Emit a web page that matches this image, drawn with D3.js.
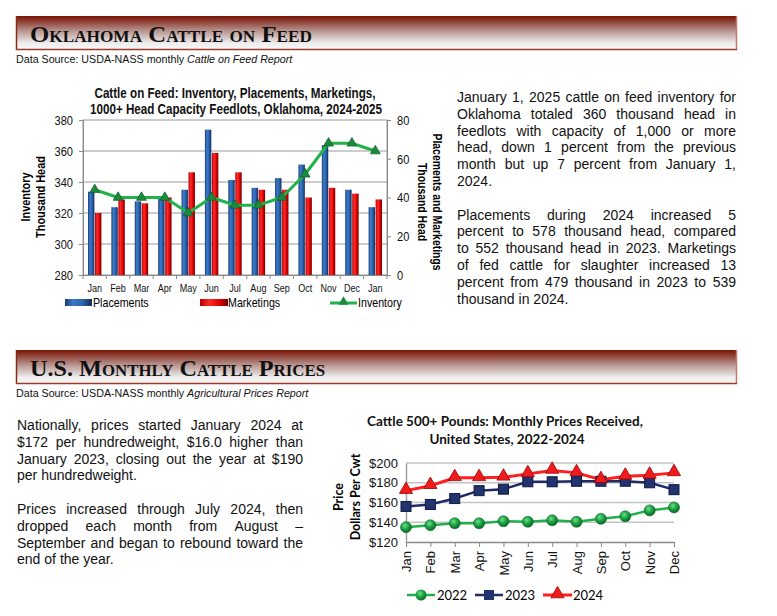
<!DOCTYPE html>
<html>
<head>
<meta charset="utf-8">
<script src="https://cdn.jsdelivr.net/npm/d3@7"></script>
<style>
  body { margin: 0; background: #fff; }
  svg { display: block; font-family: "Liberation Sans", Arial, sans-serif; }
  .narrow { font-family: "Liberation Sans Narrow", "Arial Narrow", "Liberation Sans", sans-serif; }
  .calib { font-family: Lato, "Open Sans", sans-serif; }
</style>
</head>
<body>
<svg id="page" width="777" height="616"></svg>
<script>
// ---- data: Oklahoma cattle on feed (1000+ head feedlots), thousand head
var cofMonths = ["Jan","Feb","Mar","Apr","May","Jun","Jul","Aug","Sep","Oct","Nov","Dec","Jan"];
var placements = [43, 35, 38, 40, 44, 75, 49, 45, 50, 57, 67, 44, 35];
var marketings = [32, 39, 37, 40, 53, 63, 53, 44, 44, 40, 45, 42, 39];
var inventory  = [335, 330, 330, 330, 320, 330, 325, 325, 330, 345, 365, 365, 360];
var invTicks = [280, 300, 320, 340, 360, 380];
var pmTicks  = [0, 20, 40, 60, 80];

// ---- data: US cattle 500+ lb prices received, $ per cwt
var priceMonths = ["Jan","Feb","Mar","Apr","May","Jun","Jul","Aug","Sep","Oct","Nov","Dec"];
var price2022 = [135, 137, 139, 139, 141, 140.5, 142, 140.5, 143.5, 146, 152, 155];
var price2023 = [156, 158, 164, 172, 173.5, 181, 181, 181.5, 181.5, 181.5, 180, 173];
var price2024 = [172, 177, 185, 185, 185.5, 189, 192.5, 190, 183, 186.5, 187.5, 190];
var priceTicks = [120, 140, 160, 180, 200];

var svg = d3.select("#page");
var defs = svg.append("defs");

// gradients
function vGrad(id, stops) {
  var g = defs.append("linearGradient").attr("id", id).attr("x1", 0).attr("y1", 0).attr("x2", 0).attr("y2", 1);
  stops.forEach(function(s) { g.append("stop").attr("offset", s[0]).attr("stop-color", s[1]); });
}
function hGrad(id, stops) {
  var g = defs.append("linearGradient").attr("id", id).attr("x1", 0).attr("y1", 0).attr("x2", 1).attr("y2", 0);
  stops.forEach(function(s) { g.append("stop").attr("offset", s[0]).attr("stop-color", s[1]); });
}
vGrad("banner", [[0, "#781405"], [0.12, "#8a3528"], [0.45, "#b99893"], [0.8, "#eeeeee"], [1, "#f8f8f8"]]);
hGrad("blueBar", [[0, "#1a3b75"], [0.3, "#3c7cc9"], [0.65, "#2a62ad"], [1, "#142c5a"]]);
hGrad("redBar", [[0, "#b50000"], [0.35, "#ff2b2b"], [0.7, "#dd0000"], [1, "#6e0000"]]);
var rg = defs.append("radialGradient").attr("id", "greenBall").attr("cx", 0.4).attr("cy", 0.35).attr("r", 0.65);
rg.append("stop").attr("offset", 0).attr("stop-color", "#6fe08a");
rg.append("stop").attr("offset", 0.5).attr("stop-color", "#1ea548");
rg.append("stop").attr("offset", 1).attr("stop-color", "#0a6a26");

// ---- section banners
function banner(y, title, baseline, titleLen) {
  svg.append("rect").attr("x", 16).attr("y", y).attr("width", 721).attr("height", 34)
     .attr("fill", "url(#banner)");
  svg.append("line").attr("x1", 16.5).attr("x2", 16.5).attr("y1", y).attr("y2", y + 34).attr("stroke", "#8a2a1a").attr("stroke-width", 1.5);
  svg.append("line").attr("x1", 736.5).attr("x2", 736.5).attr("y1", y).attr("y2", y + 34).attr("stroke", "#c07a6e").attr("stroke-width", 1.5);
  svg.append("line").attr("x1", 16).attr("x2", 737).attr("y1", y + 33.5).attr("y2", y + 33.5).attr("stroke", "#a03a28").attr("stroke-width", 1.5);
  svg.append("text").attr("x", 30).attr("y", baseline)
     .style("font-family", "'Liberation Serif', 'DejaVu Serif', serif").style("font-weight", "bold")
     .style("font-variant", "small-caps").style("font-size", "23px").attr("fill", "#111")
     .attr("textLength", titleLen).attr("lengthAdjust", "spacingAndGlyphs")
     .text(title);
}
function source(y, plain, italic) {
  var t = svg.append("text").attr("x", 16).attr("y", y).style("font-size", "10.7px").attr("fill", "#111");
  t.append("tspan").text(plain);
  t.append("tspan").style("font-style", "italic").text(italic);
}
banner(16, "Oklahoma Cattle on Feed", 42, 282);
source(63, "Data Source: USDA-NASS monthly ", "Cattle on Feed Report");
banner(350, "U.S. Monthly Cattle Prices", 376, 295);
source(397, "Data Source: USDA-NASS monthly ", "Agricultural Prices Report");

// ---- justified paragraphs
function justify(lines, x0, x1, y0, lh, size) {
  lines.forEach(function(line, i) {
    var words = line.split(" ");
    var y = y0 + i * lh;
    var nodes = words.map(function(w) {
      return svg.append("text").attr("y", y).style("font-size", size + "px").attr("fill", "#111").text(w);
    });
    var widths = nodes.map(function(n) { return n.node().getComputedTextLength(); });
    var total = d3.sum(widths);
    var last = i === lines.length - 1;
    var gap = (last || words.length < 2) ? size * 0.28 : (x1 - x0 - total) / (words.length - 1);
    var x = x0;
    nodes.forEach(function(n, k) { n.attr("x", x); x += widths[k] + gap; });
  });
}
justify(["January 1, 2025 cattle on feed inventory for",
         "Oklahoma totaled 360 thousand head in",
         "feedlots with capacity of 1,000 or more",
         "head, down 1 percent from the previous",
         "month but up 7 percent from January 1,",
         "2024."], 457, 736, 102, 16.8, 14);
justify(["Placements during 2024 increased 5",
         "percent to 578 thousand head, compared",
         "to 552 thousand head in 2023. Marketings",
         "of fed cattle for slaughter increased 13",
         "percent from 479 thousand in 2023 to 539",
         "thousand in 2024."], 457, 736, 219.5, 16.8, 14);
justify(["Nationally, prices started January 2024 at",
         "$172 per hundredweight, $16.0 higher than",
         "January 2023, closing out the year at $190",
         "per hundredweight."], 17, 303, 430, 16.8, 14);
justify(["Prices increased through July 2024, then",
         "dropped each month from August \u2013",
         "September and began to rebound toward the",
         "end of the year."], 17, 303, 514, 16.8, 14);

// ================= Chart 1: cattle on feed =================
var c1 = { left: 83, right: 387, top: 120, bottom: 275 };
var x1 = d3.scaleBand().domain(d3.range(cofMonths.length)).range([c1.left, c1.right]);
var yInv = d3.scaleLinear().domain([280, 380]).range([c1.bottom, c1.top]);
var yPM = d3.scaleLinear().domain([0, 80]).range([c1.bottom, c1.top]);
var g1 = svg.append("g").attr("class", "narrow");

g1.append("text").attr("x", 235).attr("y", 98).attr("text-anchor", "middle")
  .style("font-size", "14.2px").style("font-weight", "bold").attr("fill", "#111")
  .text("Cattle on Feed: Inventory, Placements, Marketings,");
g1.append("text").attr("x", 236).attr("y", 114).attr("text-anchor", "middle")
  .style("font-size", "14.2px").style("font-weight", "bold").attr("fill", "#111")
  .text("1000+ Head Capacity Feedlots, Oklahoma, 2024-2025");

// gridlines
g1.selectAll(".grid1").data(invTicks.slice(1, -1)).enter().append("line")
  .attr("x1", c1.left).attr("x2", c1.right)
  .attr("y1", function(d) { return yInv(d); }).attr("y2", function(d) { return yInv(d); })
  .attr("stroke", "#9a9a9a").attr("stroke-width", 1);
g1.append("rect").attr("x", c1.left).attr("y", c1.top).attr("width", c1.right - c1.left).attr("height", c1.bottom - c1.top)
  .attr("fill", "none").attr("stroke", "#9a9a9a").attr("stroke-width", 1);

// bars
var bw = 6.4;
g1.selectAll(".plc").data(placements).enter().append("rect")
  .attr("x", function(d, i) { return x1(i) + x1.bandwidth() / 2 - bw - 0.3; })
  .attr("y", function(d) { return yPM(d); })
  .attr("width", bw).attr("height", function(d) { return yPM(0) - yPM(d); })
  .attr("fill", "url(#blueBar)");
g1.selectAll(".mkt").data(marketings).enter().append("rect")
  .attr("x", function(d, i) { return x1(i) + x1.bandwidth() / 2 + 0.3; })
  .attr("y", function(d) { return yPM(d); })
  .attr("width", bw).attr("height", function(d) { return yPM(0) - yPM(d); })
  .attr("fill", "url(#redBar)");

// axes
var axL = g1.append("g").attr("transform", "translate(" + c1.left + ",0)")
  .call(d3.axisLeft(yInv).tickValues(invTicks).tickSize(4).tickPadding(6));
var axR = g1.append("g").attr("transform", "translate(" + c1.right + ",0)")
  .call(d3.axisRight(yPM).tickValues(pmTicks).tickSize(4).tickPadding(6));
var axB = g1.append("g").attr("transform", "translate(0," + c1.bottom + ")")
  .call(d3.axisBottom(x1).tickFormat(function(i) { return cofMonths[i]; }).tickSize(0).tickPadding(9));
[axL, axR].forEach(function(a) {
  a.select(".domain").attr("stroke", "#8a8a8a");
  a.selectAll(".tick line").attr("stroke", "#8a8a8a");
  a.selectAll("text").style("font-size", "13.5px").style("font-family", "inherit").attr("fill", "#111");
});
axB.select(".domain").attr("stroke", "#8a8a8a");
axB.selectAll("text").style("font-size", "11px").style("font-family", "inherit").attr("fill", "#111");
// category separator ticks
g1.selectAll(".sep").data(d3.range(cofMonths.length + 1)).enter().append("line")
  .attr("x1", function(i) { return c1.left + i * x1.step(); })
  .attr("x2", function(i) { return c1.left + i * x1.step(); })
  .attr("y1", c1.bottom).attr("y2", c1.bottom + 4).attr("stroke", "#8a8a8a");

// inventory line
var inv = d3.line().x(function(d, i) { return x1(i) + x1.bandwidth() / 2; }).y(function(d) { return yInv(d); });
g1.append("path").datum(inventory).attr("d", inv).attr("fill", "none").attr("stroke", "#21b24a").attr("stroke-width", 3);
var tri = d3.symbol().type(d3.symbolTriangle).size(42);
g1.selectAll(".invpt").data(inventory).enter().append("path")
  .attr("d", tri)
  .attr("transform", function(d, i) { return "translate(" + (x1(i) + x1.bandwidth() / 2) + "," + yInv(d) + ")"; })
  .attr("fill", "#1c8a3c").attr("stroke", "#0e5a22").attr("stroke-width", 0.7);

// axis titles
g1.append("text").attr("transform", "translate(30,197) rotate(-90)").attr("text-anchor", "middle")
  .style("font-size", "13.3px").style("font-weight", "bold").text("Inventory");
g1.append("text").attr("transform", "translate(45,197) rotate(-90)").attr("text-anchor", "middle")
  .style("font-size", "13.3px").style("font-weight", "bold").text("Thousand Head");
g1.append("text").attr("transform", "translate(433,202) rotate(90)").attr("text-anchor", "middle")
  .style("font-size", "12.7px").style("font-weight", "bold").text("Placements and Marketings");
g1.append("text").attr("transform", "translate(418,202) rotate(90)").attr("text-anchor", "middle")
  .style("font-size", "12.7px").style("font-weight", "bold").text("Thousand Head");

// legend
var lg1 = g1.append("g").style("font-size", "13px");
lg1.append("rect").attr("x", 65).attr("y", 299).attr("width", 27).attr("height", 7).attr("fill", "url(#blueBar)");
lg1.append("text").attr("x", 93).attr("y", 307).text("Placements");
lg1.append("rect").attr("x", 200).attr("y", 299).attr("width", 28).attr("height", 7).attr("fill", "url(#redBar)");
lg1.append("text").attr("x", 228).attr("y", 307).text("Marketings");
lg1.append("line").attr("x1", 330).attr("x2", 357).attr("y1", 303).attr("y2", 303).attr("stroke", "#21b24a").attr("stroke-width", 3);
lg1.append("path").attr("d", tri).attr("transform", "translate(343.5,302)").attr("fill", "#1c8a3c");
lg1.append("text").attr("x", 358).attr("y", 307).text("Inventory");

// no narrow font installed: squeeze chart 1 texts to an Arial Narrow width
g1.selectAll("text").each(function() {
  var w = this.getComputedTextLength();
  d3.select(this).attr("textLength", w * 0.82).attr("lengthAdjust", "spacingAndGlyphs");
});

// ================= Chart 2: cattle prices =================
var c2 = { left: 406, right: 674, top: 463, bottom: 542 };
var x2 = d3.scalePoint().domain(priceMonths).range([c2.left, c2.right]);
var y2 = d3.scaleLinear().domain([120, 200]).range([c2.bottom, c2.top]);
var g2 = svg.append("g").attr("class", "calib");

g2.append("text").attr("x", 505).attr("y", 426).attr("text-anchor", "middle")
  .style("font-size", "13.5px").style("font-weight", "bold").attr("fill", "#111")
  .text("Cattle 500+ Pounds: Monthly Prices Received,");
g2.append("text").attr("x", 507).attr("y", 444).attr("text-anchor", "middle")
  .style("font-size", "13.5px").style("font-weight", "bold").attr("fill", "#111")
  .text("United States, 2022-2024");

g2.selectAll(".grid2").data(priceTicks.slice(1)).enter().append("line")
  .attr("x1", c2.left).attr("x2", c2.right)
  .attr("y1", function(d) { return y2(d); }).attr("y2", function(d) { return y2(d); })
  .attr("stroke", "#c4c4c4").attr("stroke-width", 1.5);

var ay2 = g2.append("g").attr("transform", "translate(" + c2.left + ",0)")
  .call(d3.axisLeft(y2).tickValues(priceTicks).tickFormat(function(d) { return "$" + d; }).tickSize(0).tickPadding(8));
ay2.select(".domain").attr("stroke", "#a0a0a0").attr("stroke-width", 1.5);
ay2.selectAll("text").style("font-size", "13px").style("font-family", "inherit").attr("fill", "#111");
var ax2 = g2.append("g").attr("transform", "translate(0," + c2.bottom + ")")
  .call(d3.axisBottom(x2).tickSize(5).tickPadding(6).tickSizeOuter(0));
ax2.select(".domain").attr("stroke", "#8a8a8a").attr("stroke-width", 1.5);
ax2.selectAll(".tick line").attr("stroke", "#8a8a8a");
ax2.selectAll("text").style("font-size", "13px").style("font-family", "inherit").attr("fill", "#111")
  .attr("text-anchor", "end").attr("transform", "rotate(-90)").attr("x", -9).attr("y", 0).attr("dy", "0.35em");

var ln = d3.line().x(function(d, i) { return x2(priceMonths[i]); }).y(function(d) { return y2(d); });
g2.append("path").datum(price2022).attr("d", ln).attr("fill", "none").attr("stroke", "#22b04a").attr("stroke-width", 2.5);
g2.append("path").datum(price2023).attr("d", ln).attr("fill", "none").attr("stroke", "#1f2c64").attr("stroke-width", 2.5);
g2.append("path").datum(price2024).attr("d", ln).attr("fill", "none").attr("stroke", "#ff1f1f").attr("stroke-width", 3);

g2.selectAll(".p22").data(price2022).enter().append("circle")
  .attr("cx", function(d, i) { return x2(priceMonths[i]); }).attr("cy", function(d) { return y2(d); })
  .attr("r", 5.5).attr("fill", "url(#greenBall)").attr("stroke", "#0b6424").attr("stroke-width", 0.6);
g2.selectAll(".p23").data(price2023).enter().append("rect")
  .attr("x", function(d, i) { return x2(priceMonths[i]) - 5; }).attr("y", function(d) { return y2(d) - 5; })
  .attr("width", 10).attr("height", 10).attr("fill", "#22336f").attr("stroke", "#0f1a40").attr("stroke-width", 1);
var tri2 = d3.symbol().type(d3.symbolTriangle).size(75);
g2.selectAll(".p24").data(price2024).enter().append("path")
  .attr("d", tri2)
  .attr("transform", function(d, i) { return "translate(" + x2(priceMonths[i]) + "," + (y2(d) - 1) + ")"; })
  .attr("fill", "#ee1c1c").attr("stroke", "#a00000").attr("stroke-width", 0.8);

g2.append("text").attr("transform", "translate(343,497) rotate(-90)").attr("text-anchor", "middle")
  .style("font-size", "12.5px").style("font-weight", "bold").text("Price");
g2.append("text").attr("transform", "translate(360,497) rotate(-90)").attr("text-anchor", "middle")
  .style("font-size", "12.5px").style("font-weight", "bold").text("Dollars Per Cwt");

// legend
var lg2 = g2.append("g").style("font-size", "13px");
lg2.append("line").attr("x1", 407).attr("x2", 435).attr("y1", 595).attr("y2", 595).attr("stroke", "#22b04a").attr("stroke-width", 2.5);
lg2.append("circle").attr("cx", 421).attr("cy", 595).attr("r", 5.5).attr("fill", "url(#greenBall)");
lg2.append("text").attr("x", 437).attr("y", 600).text("2022");
lg2.append("line").attr("x1", 475).attr("x2", 503).attr("y1", 595).attr("y2", 595).attr("stroke", "#1f2c64").attr("stroke-width", 2.5);
lg2.append("rect").attr("x", 484).attr("y", 590).attr("width", 10).attr("height", 10).attr("fill", "#22336f");
lg2.append("text").attr("x", 505).attr("y", 600).text("2023");
lg2.append("line").attr("x1", 543).attr("x2", 572).attr("y1", 595).attr("y2", 595).attr("stroke", "#ff1f1f").attr("stroke-width", 3);
lg2.append("path").attr("d", tri2).attr("transform", "translate(557.5,594)").attr("fill", "#ee1c1c").attr("stroke", "#a00000").attr("stroke-width", 0.8);
lg2.append("text").attr("x", 573).attr("y", 600).text("2024");
</script>
</body>
</html>
